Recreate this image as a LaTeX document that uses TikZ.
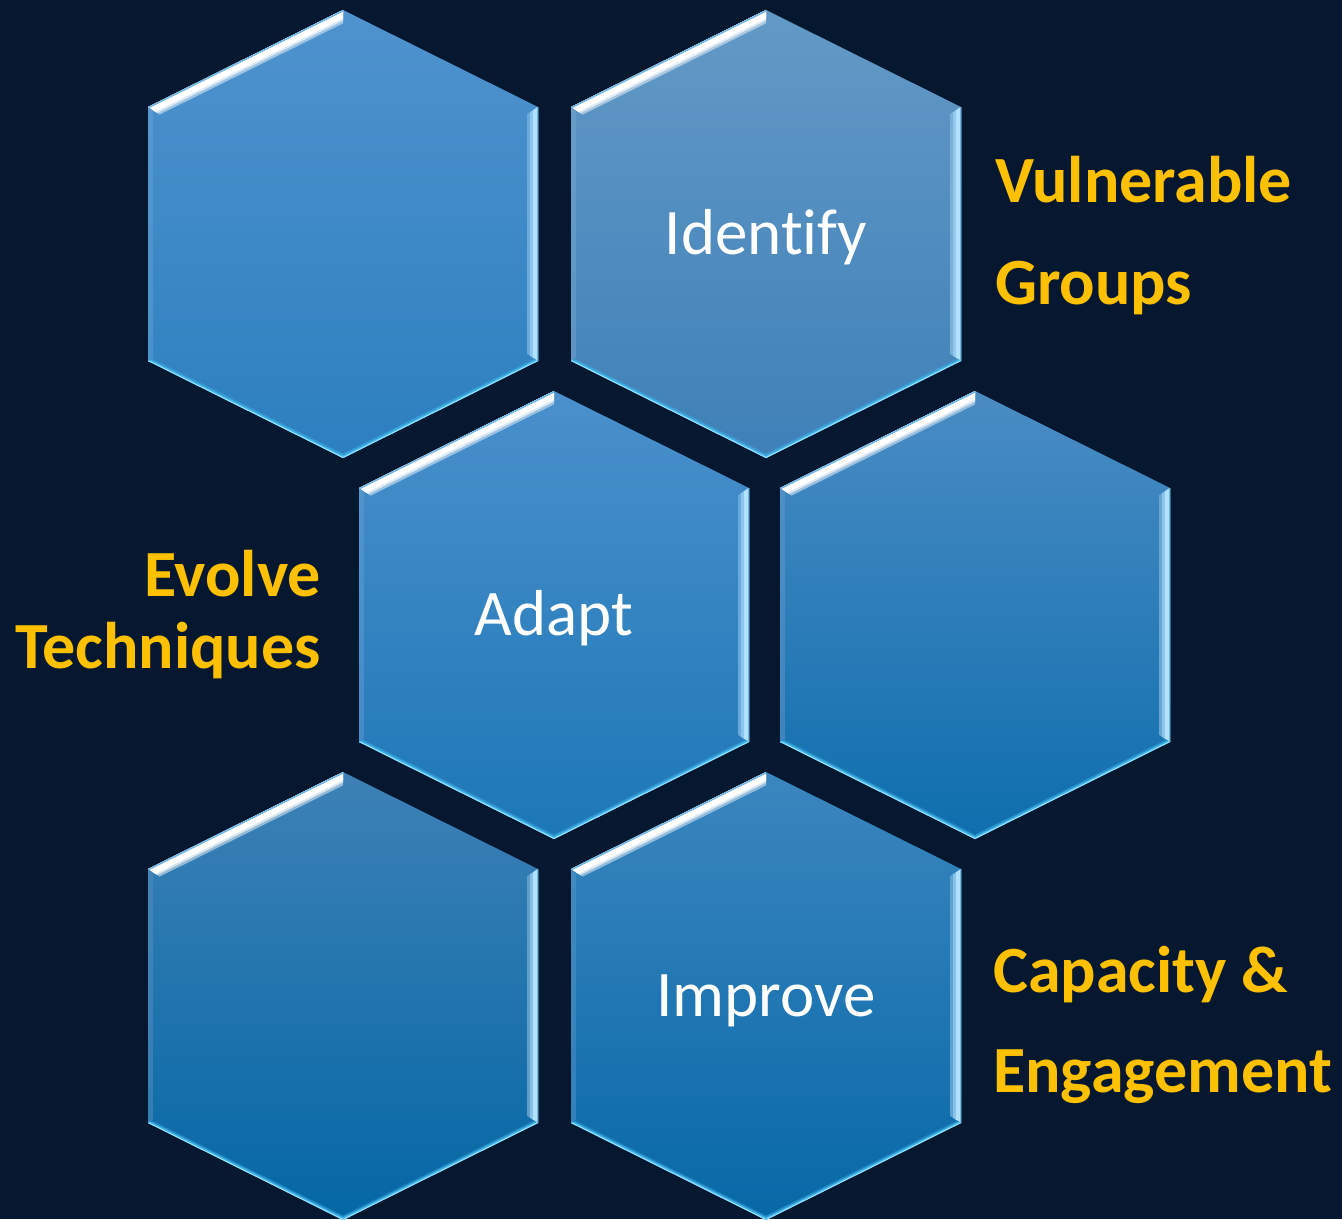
\documentclass[tikz,border=0pt]{standalone}
\usepackage{fontspec}
\setmainfont{Carlito}[Ligatures=NoCommon]
\definecolor{bg}{HTML}{061830}
\definecolor{gold}{HTML}{FFC000}
\definecolor{rimB}{HTML}{B0E2FF}
\definecolor{rimC}{HTML}{6FB6E6}
\definecolor{lowA}{HTML}{3FB0E6}
\definecolor{lowB}{HTML}{9AE2FF}
\definecolor{tTL}{HTML}{4F93CE}\definecolor{bTL}{HTML}{2C7FBF}
\definecolor{tTR}{HTML}{6399C6}\definecolor{bTR}{HTML}{3E80B8}
\definecolor{tML}{HTML}{4A90CC}\definecolor{bML}{HTML}{1D77B6}
\definecolor{tMR}{HTML}{4A8CC4}\definecolor{bMR}{HTML}{0E6EAD}
\definecolor{tBL}{HTML}{3D81B6}\definecolor{bBL}{HTML}{0467A5}
\definecolor{tBR}{HTML}{3B86BF}\definecolor{bBR}{HTML}{0768A7}
\tikzset{
  hexlabel/.style={text=white,font=\fontsize{65}{78}\selectfont,inner sep=0pt},
  sidelabel/.style={text=gold,font=\bfseries\fontsize{66}{78}\selectfont,inner sep=0pt},
}
\newcommand\hexcell[5]{%
  \begin{scope}[shift={(#2,#3)}]
    \coordinate (#1) at (0,0);
    \path[top color=#4,bottom color=#5]
      (0,-224)--(195,-127)--(195,127)--(0,224)--(-195,127)--(-195,-127)--cycle;
    % upper-left facet: white highlight
    \begin{scope}
      \clip (-195,-127)--(0,-224)--(0,-210.56)--(-183.3,-119.38)--cycle;
      \draw[line width=24pt,color=white!45!#4] (-195,-127)--(0,-224);
      \draw[line width=19pt,color=white!80!#4] (-195,-127)--(0,-224);
      \draw[line width=15pt,white] (-195,-127)--(0,-224);
      \draw[line width=3pt,rimC] (-195,-127)--(0,-224);
    \end{scope}
    % right facet: light blue highlight
    \begin{scope}
      \clip (195,-127)--(195,127)--(183.3,119.38)--(183.3,-119.38)--cycle;
      \draw[line width=22pt,color=rimB!30!#4] (195,-127)--(195,127);
      \draw[line width=16pt,color=rimB!65!#4] (195,-127)--(195,127);
      \draw[line width=10pt,rimB] (195,-127)--(195,127);
      \draw[line width=3pt,rimC] (195,-127)--(195,127);
    \end{scope}
    % left facet (subtle)
    \begin{scope}
      \clip (-195,-127)--(-195,127)--(-183.3,119.38)--(-183.3,-119.38)--cycle;
      \draw[line width=10pt,color=#4!85!white,opacity=0.45] (-195,-127)--(-195,127);
    \end{scope}
    % lower facets: thin cyan rim
    \begin{scope}
      \clip (195,127)--(0,224)--(-195,127)--(-183.3,119.38)--(0,210.56)--(183.3,119.38)--cycle;
      \draw[line width=8pt,color=lowA!45!#5] (195,127)--(0,224)--(-195,127);
      \draw[line width=5pt,lowA] (195,127)--(0,224)--(-195,127);
      \draw[line width=2pt,lowB] (195,127)--(0,224)--(-195,127);
    \end{scope}
  \end{scope}}
\begin{document}
\begin{tikzpicture}[x=1pt,y=-1pt]
  \fill[bg] (0,0) rectangle (1342,1219);
  \useasboundingbox (0,0) rectangle (1342,1219);
  \hexcell{hTL}{343}{234}{tTL}{bTL}
  \hexcell{hTR}{766}{234}{tTR}{bTR}
  \hexcell{hML}{554}{615}{tML}{bML}
  \hexcell{hMR}{975}{615}{tMR}{bMR}
  \hexcell{hBL}{343}{996}{tBL}{bBL}
  \hexcell{hBR}{766}{996}{tBR}{bBR}
  \node[hexlabel,anchor=base] (tId) at (766,254) {Identify};
  \node[hexlabel,anchor=base] (tAd) at (554,635) {Adapt};
  \node[hexlabel,anchor=base] (tIm) at (766,1016) {Improve};
  \node[sidelabel,anchor=base west] (tV1) at (995,202) {Vulnerable};
  \node[sidelabel,anchor=base west] (tV2) at (995,304) {Groups};
  \node[sidelabel,anchor=base east] (tE1) at (321,596) {Evolve};
  \node[sidelabel,anchor=base east] (tE2) at (321,668) {Techniques};
  \node[sidelabel,anchor=base west] (tC1) at (993,992) {Capacity \&};
  \node[sidelabel,anchor=base west] (tC2) at (993,1092) {Engagement};
\end{tikzpicture}
\end{document}
